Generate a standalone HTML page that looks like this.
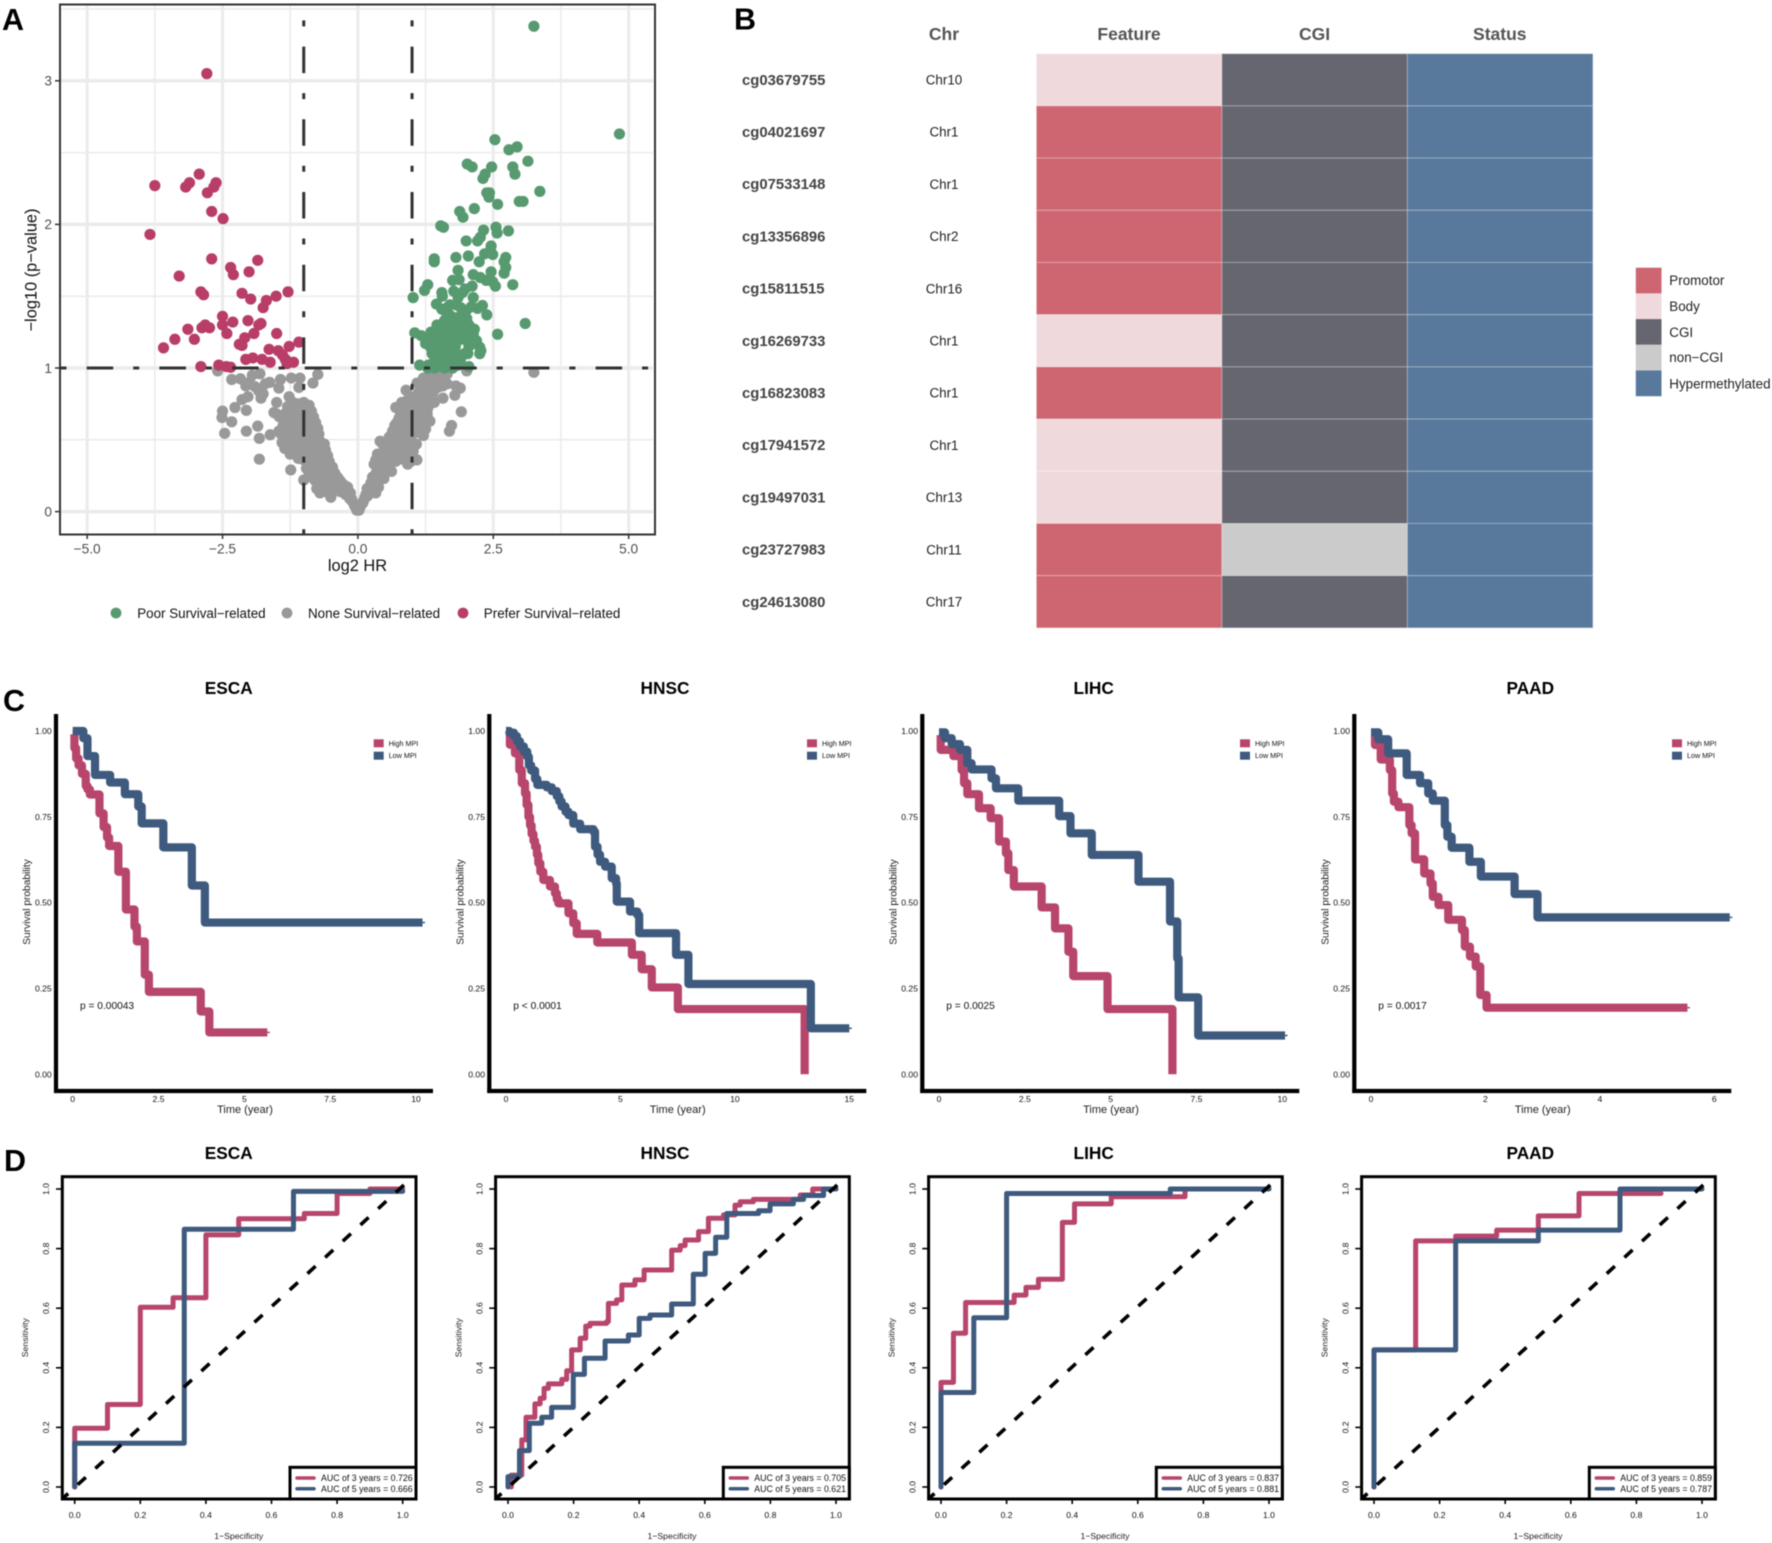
<!DOCTYPE html>
<html lang="en">
<head>
<meta charset="utf-8">
<title>Survival-related methylation figure</title>
<style>
html,body{margin:0;padding:0;background:#fff;width:1772px;height:1543px;overflow:hidden}
svg{display:block;font-family:"Liberation Sans",sans-serif;filter:blur(0.4px)}
.panel-letter{font-size:30.5px;font-weight:700;fill:#000}
.a-tick{font-size:13.7px;fill:#4d4d4d}
.a-title{font-size:16.4px;fill:#111}
.a-legend{font-size:13.4px;fill:#111}
.hm-head{font-size:17.5px;font-weight:700;fill:#555}
.hm-legend{font-size:13.4px;fill:#222}
.plot-title{font-size:17.3px;font-weight:700;fill:#000}
.km-title{font-size:10.2px;fill:#222}
.km-time{font-size:11px;fill:#222}
.km-p{font-size:10.2px;fill:#111}
.km-leg{font-size:7.2px;fill:#111}
.roc-label{font-size:8.7px;fill:#222}
.roc-leg{font-size:8.8px;fill:#111}
</style>
</head>
<body>
<svg id="figure" width="1772" height="1543" viewBox="0 0 1772 1543" xmlns="http://www.w3.org/2000/svg">
  <rect width="1772" height="1543" fill="#fff"/>

  <text class="panel-letter" x="2" y="30">A</text>
  <text class="panel-letter" x="734" y="29.5">B</text>
  <text class="panel-letter" x="3" y="711">C</text>
  <text class="panel-letter" x="4" y="1171">D</text>

  <!-- Panel A: volcano -->
  <g id="volcano">
    <g id="volcano-grid"></g>
    <g id="volcano-points"></g>
    <g id="volcano-thresholds"></g>
    <rect x="60" y="4.5" width="595" height="530" fill="none" stroke="#333" stroke-width="2"/>
    <g id="volcano-axes"></g>
    <text class="a-title" x="357.5" y="571" text-anchor="middle">log2 HR</text>
    <text class="a-title" x="36.5" y="270" text-anchor="middle" transform="rotate(-90 36.5 270)">−log10 (p−value)</text>
    <g>
      <circle cx="116" cy="613" r="5.4" fill="#579a70"/>
      <text class="a-legend" x="137.2" y="618">Poor Survival−related</text>
      <circle cx="287" cy="613" r="5.4" fill="#999"/>
      <text class="a-legend" x="308" y="618">None Survival−related</text>
      <circle cx="463" cy="613" r="5.4" fill="#b83d68"/>
      <text class="a-legend" x="483.8" y="618">Prefer Survival−related</text>
    </g>
  </g>

  <!-- Panel B: annotation heatmap -->
  <g id="heatmap">
    <text class="hm-head" x="944" y="40" text-anchor="middle">Chr</text>
    <text class="hm-head" x="1129" y="40" text-anchor="middle">Feature</text>
    <text class="hm-head" x="1314.5" y="40" text-anchor="middle">CGI</text>
    <text class="hm-head" x="1499.8" y="40" text-anchor="middle">Status</text>
    <g id="heatmap-cells"></g>
    <g>
      <rect x="1635.8" y="267.7" width="25.7" height="25.7" fill="#cd6670"/>
      <rect x="1635.8" y="293.4" width="25.7" height="25.7" fill="#f0d9dc"/>
      <rect x="1635.8" y="319.1" width="25.7" height="25.7" fill="#666670"/>
      <rect x="1635.8" y="344.8" width="25.7" height="25.7" fill="#cbcbcb"/>
      <rect x="1635.8" y="370.5" width="25.7" height="25.7" fill="#58799c"/>
      <text class="hm-legend" x="1669.3" y="285">Promotor</text>
      <text class="hm-legend" x="1669.3" y="311">Body</text>
      <text class="hm-legend" x="1669.3" y="337">CGI</text>
      <text class="hm-legend" x="1669.3" y="362">non−CGI</text>
      <text class="hm-legend" x="1669.3" y="388.5">Hypermethylated</text>
    </g>
  </g>

  <!-- Panel C: Kaplan-Meier -->
  <g id="km-esca">
    <text class="plot-title" x="228.7" y="694" text-anchor="middle">ESCA</text>
    <text class="km-title" x="30" y="902" text-anchor="middle" transform="rotate(-90 30 902)">Survival probability</text>
    <text class="km-time" x="245" y="1113" text-anchor="middle">Time (year)</text>
    <text class="km-p" x="80" y="1009">p = 0.00043</text>
    <rect x="373.7" y="739.3" width="10" height="8" fill="#b8456c"/>
    <rect x="373.7" y="751.7" width="10" height="8" fill="#3e5a7e"/>
    <text class="km-leg" x="388.7" y="746">High MPI</text>
    <text class="km-leg" x="388.7" y="758">Low MPI</text>
  </g>
  <g id="km-hnsc" transform="translate(433.3 0)">
    <text class="plot-title" x="231.7" y="694" text-anchor="middle">HNSC</text>
    <text class="km-title" x="30" y="902" text-anchor="middle" transform="rotate(-90 30 902)">Survival probability</text>
    <text class="km-time" x="244.4" y="1113" text-anchor="middle">Time (year)</text>
    <text class="km-p" x="80" y="1009">p &lt; 0.0001</text>
    <rect x="373.7" y="739.3" width="10" height="8" fill="#b8456c"/>
    <rect x="373.7" y="751.7" width="10" height="8" fill="#3e5a7e"/>
    <text class="km-leg" x="388.7" y="746">High MPI</text>
    <text class="km-leg" x="388.7" y="758">Low MPI</text>
  </g>
  <g id="km-lihc" transform="translate(866.3 0)">
    <text class="plot-title" x="227.4" y="694" text-anchor="middle">LIHC</text>
    <text class="km-title" x="30" y="902" text-anchor="middle" transform="rotate(-90 30 902)">Survival probability</text>
    <text class="km-time" x="244.7" y="1113" text-anchor="middle">Time (year)</text>
    <text class="km-p" x="80" y="1009">p = 0.0025</text>
    <rect x="373.7" y="739.3" width="10" height="8" fill="#b8456c"/>
    <rect x="373.7" y="751.7" width="10" height="8" fill="#3e5a7e"/>
    <text class="km-leg" x="388.7" y="746">High MPI</text>
    <text class="km-leg" x="388.7" y="758">Low MPI</text>
  </g>
  <g id="km-paad" transform="translate(1298.3 0)">
    <text class="plot-title" x="232" y="694" text-anchor="middle">PAAD</text>
    <text class="km-title" x="30" y="902" text-anchor="middle" transform="rotate(-90 30 902)">Survival probability</text>
    <text class="km-time" x="244.4" y="1113" text-anchor="middle">Time (year)</text>
    <text class="km-p" x="80" y="1009">p = 0.0017</text>
    <rect x="373.7" y="739.3" width="10" height="8" fill="#b8456c"/>
    <rect x="373.7" y="751.7" width="10" height="8" fill="#3e5a7e"/>
    <text class="km-leg" x="388.7" y="746">High MPI</text>
    <text class="km-leg" x="388.7" y="758">Low MPI</text>
  </g>

  <!-- Panel D: ROC -->
  <g id="roc-esca">
    <text class="plot-title" x="228.7" y="1159" text-anchor="middle">ESCA</text>
    <text class="roc-label" x="28" y="1337.7" text-anchor="middle" transform="rotate(-90 28 1337.7)">Sensitivity</text>
    <text class="roc-label" x="238.7" y="1539" text-anchor="middle">1−Specificity</text>
    <text class="roc-leg" x="321" y="1481.2">AUC of 3 years = 0.726</text>
    <text class="roc-leg" x="321" y="1491.8">AUC of 5 years = 0.666</text>
  </g>
  <g id="roc-hnsc" transform="translate(433.3 0)">
    <text class="plot-title" x="231.7" y="1159" text-anchor="middle">HNSC</text>
    <text class="roc-label" x="28" y="1337.7" text-anchor="middle" transform="rotate(-90 28 1337.7)">Sensitivity</text>
    <text class="roc-label" x="238.7" y="1539" text-anchor="middle">1−Specificity</text>
    <text class="roc-leg" x="321" y="1481.2">AUC of 3 years = 0.705</text>
    <text class="roc-leg" x="321" y="1491.8">AUC of 5 years = 0.621</text>
  </g>
  <g id="roc-lihc" transform="translate(866.3 0)">
    <text class="plot-title" x="227.4" y="1159" text-anchor="middle">LIHC</text>
    <text class="roc-label" x="28" y="1337.7" text-anchor="middle" transform="rotate(-90 28 1337.7)">Sensitivity</text>
    <text class="roc-label" x="238.7" y="1539" text-anchor="middle">1−Specificity</text>
    <text class="roc-leg" x="321" y="1481.2">AUC of 3 years = 0.837</text>
    <text class="roc-leg" x="321" y="1491.8">AUC of 5 years = 0.881</text>
  </g>
  <g id="roc-paad" transform="translate(1299.3 0)">
    <text class="plot-title" x="231" y="1159" text-anchor="middle">PAAD</text>
    <text class="roc-label" x="28" y="1337.7" text-anchor="middle" transform="rotate(-90 28 1337.7)">Sensitivity</text>
    <text class="roc-label" x="238.7" y="1539" text-anchor="middle">1−Specificity</text>
    <text class="roc-leg" x="321" y="1481.2">AUC of 3 years = 0.859</text>
    <text class="roc-leg" x="321" y="1491.8">AUC of 5 years = 0.787</text>
  </g>
</svg>

<script>
// ---------- Panel A data: [log2 HR, -log10 p] ----------
const preferPoints = [[-2.79,3.05],[-3.75,2.27],[-2.93,2.35],[-3.11,2.29],[-3.18,2.26],[-2.62,2.29],[-2.66,2.26],[-2.78,2.22],[-2.70,2.09],[-2.49,2.04],[-3.84,1.93],[-2.70,1.76],[-1.85,1.75],[-2.35,1.70],[-2.30,1.65],[-2.01,1.67],[-3.30,1.64],[-2.90,1.53],[-2.85,1.51],[-2.14,1.52],[-1.98,1.48],[-1.69,1.47],[-1.75,1.42],[-1.51,1.50],[-1.29,1.53],[-2.50,1.36],[-2.03,1.33],[-1.79,1.31],[-1.83,1.30],[-2.31,1.32],[-2.50,1.30],[-2.82,1.30],[-2.88,1.28],[-2.74,1.28],[-3.14,1.27],[-2.42,1.24],[-1.92,1.24],[-1.50,1.24],[-2.09,1.21],[-3.38,1.20],[-3.02,1.20],[-1.09,1.18],[-2.19,1.165],[-2.14,1.157],[-3.59,1.14],[-1.27,1.15],[-1.64,1.13],[-1.47,1.12],[-1.39,1.09],[-2.07,1.06],[-1.94,1.07],[-1.77,1.06],[-1.62,1.04],[-1.34,1.06],[-1.19,1.04],[-1.31,1.03],[-2.90,1.01],[-2.57,1.02],[-2.43,1.01],[-2.35,1.005]];

const poorPoints = [[3.25,3.38],[4.83,2.63],[2.53,2.59],[2.79,2.52],[2.94,2.54],[3.14,2.44],[2.02,2.42],[2.11,2.40],[2.47,2.40],[2.86,2.40],[2.90,2.35],[2.35,2.35],[2.31,2.32],[3.36,2.23],[2.38,2.22],[2.43,2.22],[2.42,2.19],[2.58,2.14],[2.98,2.16],[3.05,2.16],[2.15,2.11],[1.88,2.09],[1.94,2.05],[1.53,1.99],[1.58,1.98],[2.55,1.98],[2.32,1.96],[2.57,1.94],[2.78,1.955],[2.26,1.91],[2.21,1.885],[2.0,1.885],[2.46,1.85],[2.45,1.82],[2.34,1.795],[2.49,1.79],[2.04,1.78],[1.81,1.77],[2.24,1.74],[2.73,1.77],[1.41,1.76],[1.41,1.74],[2.70,1.74],[2.73,1.70],[2.46,1.67],[2.70,1.66],[1.85,1.68],[2.13,1.65],[1.87,1.615],[1.75,1.61],[2.26,1.63],[2.37,1.61],[2.49,1.60],[2.54,1.57],[2.86,1.58],[1.29,1.58],[1.23,1.54],[1.02,1.49],[1.55,1.525],[1.56,1.50],[1.77,1.535],[1.93,1.525],[1.98,1.55],[2.11,1.57],[2.13,1.49],[1.85,1.49],[1.45,1.445],[1.55,1.41],[1.65,1.42],[1.81,1.44],[2.09,1.425],[2.21,1.415],[2.30,1.435],[2.38,1.37],[1.93,1.37],[1.69,1.37],[2.01,1.345],[1.73,1.33],[3.09,1.31],[1.46,1.30],[1.65,1.29],[1.77,1.27],[1.89,1.29],[2.05,1.30],[1.41,1.25],[1.53,1.245],[1.78,1.245],[1.98,1.25],[2.13,1.235],[2.58,1.235],[1.05,1.245],[1.17,1.225],[1.29,1.19],[1.45,1.19],[1.65,1.195],[1.81,1.19],[2.19,1.19],[1.35,1.14],[1.57,1.145],[1.77,1.13],[2.25,1.145],[2.27,1.12],[1.37,1.10],[1.65,1.10],[1.89,1.09],[2.03,1.10],[2.25,1.10],[1.14,1.02],[1.29,1.00],[1.41,1.045],[1.57,1.03],[1.73,1.055],[1.89,1.045],[2.05,1.01],[1.3,1.02],[1.42,1.0],[1.5,1.05],[1.6,1.0],[1.68,1.03],[1.75,1.0],[1.85,1.02],[1.45,1.08],[1.52,1.12],[1.6,1.08],[1.7,1.07],[1.78,1.09],[1.9,1.07],[1.42,1.14],[1.5,1.18],[1.6,1.15],[1.7,1.14],[1.8,1.15],[1.42,1.2],[1.55,1.22],[1.65,1.21],[1.72,1.2],[1.82,1.22],[1.92,1.2],[1.58,1.28],[1.68,1.26],[1.75,1.3],[1.85,1.28],[1.95,1.32],[1.6,1.33],[1.72,1.36],[1.82,1.35],[1.6,1.4],[1.7,1.44],[1.9,1.42],[2.0,1.4],[2.1,1.2],[2.15,1.27],[2.05,1.15],[1.97,1.1],[2.0,1.21],[1.35,1.25],[1.25,1.17]];

const nonePoints = [[-2.59,.98],[-2.33,.92],[-2.17,.925],[-2.07,.875],[-1.95,.95],[-1.81,.96],[-2.5,.70],[-2.51,.655],[-2.27,.725],[-2.33,.625],[-2.06,.705],[-2.46,.545],[-2.06,.56],[-1.85,.595],[-1.82,.51],[-1.62,.535],[-1.82,.365],[-1.24,.29],[-2.14,.78],[-2.03,.80],[-1.79,.79],[-1.83,.84],[-1.71,.89],[-1.63,.90],[-1.43,.92],[-1.46,.86],[-1.23,.93],[-1.07,.93],[-1.09,.865],[-1.27,.80],[-1.50,.76],[-1.55,.69],[-.83,.895],[-.74,.955],[-2.0,.9],[-1.9,.87],[-1.75,.82],[3.25,.97],[2.01,.98],[1.91,.695],[1.73,.60],[1.69,.56],[1.79,.81],[1.89,.86],[1.81,.875],[1.65,.89],[1.57,.875],[1.65,.96],[1.45,.99],[1.33,.945],[1.21,.93],[1.09,.895],[.89,.845],[1.57,.79],[1.41,.76],[1.29,.72],[1.33,.63],[1.21,.53],[1.25,.575],[1.09,.36],[.70,.725],[.41,.49],[.81,.76],
[-.02,.01],[.02,.01],[-.04,.03],[.04,.03],[-.06,.04],[.06,.05],[-.08,.06],[.09,.06],[-.1,.07],[.11,.08],[-.12,.09],[.13,.1],[-.15,.09],[.15,.12],[-.17,.12],[.18,.11],[-.14,.13],[.2,.13],[-.2,.14],[.22,.17],[-.23,.12],[.25,.15],[-.19,.17],[.17,.16],[-.24,.18],[.28,.2],[-.27,.16],[.24,.2],[-.3,.15],[.3,.17],[-.33,.14],[.33,.13],[-.36,.16],[.27,.24],[-.3,.2],[.31,.25],[-.34,.22],[.35,.21],[-.4,.18],[.38,.17],[-.44,.15],[.41,.22],[-.38,.24],[.36,.29],[-.42,.21],[.34,.27],
[-.46,.22],[-.5,.19],[-.55,.17],[-.43,.27],[-.48,.26],[-.54,.23],[-.6,.21],[-.66,.18],[-.72,.2],[-.47,.31],[-.52,.3],[-.58,.28],[-.63,.25],[-.69,.24],[-.75,.25],[-.8,.22],[-.53,.35],[-.6,.33],[-.66,.3],[-.72,.29],[-.78,.3],[-.85,.27],[-.56,.39],[-.62,.37],[-.68,.35],[-.74,.34],[-.8,.34],[-.6,.43],[-.66,.41],[-.72,.39],[-.77,.38],[-.83,.37],[-.9,.35],[-.62,.47],[-.68,.45],[-.74,.44],[-.8,.42],[-.86,.4],[-.94,.38],[-1.0,.36],[-.7,.49],[-.76,.48],[-.82,.46],[-.9,.44],[-.97,.42],[-1.05,.4],[-1.1,.37],[-.72,.54],[-.78,.52],[-.85,.5],[-.92,.48],[-1.02,.46],[-1.1,.44],[-1.18,.42],[-1.25,.4],[-.74,.58],[-.8,.56],[-.87,.55],[-.95,.53],[-1.03,.52],[-1.14,.5],[-1.22,.48],[-1.3,.46],[-.78,.62],[-.84,.6],[-.92,.58],[-1.0,.57],[-1.08,.58],[-1.2,.55],[-1.32,.52],[-1.42,.54],[-.82,.66],[-.88,.64],[-.95,.63],[-1.05,.62],[-1.15,.6],[-1.25,.58],[-1.38,.6],[-1.46,.56],[-.86,.7],[-.92,.68],[-1.0,.68],[-1.1,.66],[-1.2,.65],[-1.3,.63],[-1.45,.66],[-.9,.74],[-.96,.72],[-1.04,.72],[-1.15,.7],[-1.25,.72],[-1.35,.68],[-1.5,.68],[-1.0,.76],[-1.1,.75],[-1.2,.76],[-1.3,.73],[-.84,.3],[-.9,.27],[-.7,.13],[-.62,.14],[-.95,.3],[-1.0,.22],[-.76,.16],[-.5,.1],[-1.35,.44],[-1.4,.48],
[.4,.3],[.45,.26],[.48,.23],[.5,.3],[.44,.34],[.38,.35],[.36,.4],[.42,.39],[.5,.36],[.56,.3],[.62,.28],[.6,.34],[.55,.4],[.48,.42],[.63,.4],[.7,.35],[.75,.38],[.68,.43],[.58,.45],[.65,.47],[.72,.46],[.8,.42],[.86,.36],[.92,.33],[.98,.35],[.85,.44],[.78,.48],[.7,.5],[.92,.42],[.95,.47],[.88,.5],[.8,.53],[.75,.55],[1.02,.42],[1.08,.47],[.98,.52],[.9,.55],[.84,.58],[.78,.6],[.76,.65],[.83,.63],[.9,.6],[.98,.58],[1.05,.55],[.78,.7],[.85,.68],[.92,.66],[1.0,.63],[1.08,.6],[1.15,.55],[1.2,.58],[.82,.74],[.88,.72],[.95,.7],[1.02,.68],[1.1,.65],[1.18,.62],[1.25,.65],[.9,.77],[.97,.75],[1.05,.73],[1.12,.7],[1.2,.7],[1.28,.68],[1.0,.8],[1.08,.78],[1.15,.75],[1.22,.76],[1.12,.83],[1.18,.81],[1.25,.8],[1.32,.78],[1.22,.86],[1.3,.84],[1.38,.82],[1.28,.9],[1.36,.88],[1.42,.85],[1.35,.93],[1.43,.91],[1.5,.87],[1.42,.97],[1.5,.94],[1.58,.91],[.3,.33],[.33,.36],[.46,.47],[.58,.52],[.64,.56],[.68,.6],[.72,.62]];

const volcanoXTicks = [-5,-2.5,0,2.5,5];
const volcanoXTickLabels = ['−5.0','−2.5','0.0','2.5','5.0'];
const volcanoYTicks = [0,1,2,3];
const volcanoXMinorGrid = [-3.75,-1.25,1.25,3.75];
const volcanoYMinorGrid = [0.5,1.5,2.5,3.5];
const hrThresholds = [-1,1];
const pThreshold = 1;

// ---------- Panel B data ----------
const probeIds = ['cg03679755','cg04021697','cg07533148','cg13356896','cg15811515','cg16269733','cg16823083','cg17941572','cg19497031','cg23727983','cg24613080'];
const chromosomes = ['Chr10','Chr1','Chr1','Chr2','Chr16','Chr1','Chr1','Chr1','Chr13','Chr11','Chr17'];
const featureClass = ['Body','Promotor','Promotor','Promotor','Promotor','Body','Promotor','Body','Body','Promotor','Promotor'];
const cgiClass = ['CGI','CGI','CGI','CGI','CGI','CGI','CGI','CGI','CGI','non-CGI','CGI'];
const statusClass = ['Hyper','Hyper','Hyper','Hyper','Hyper','Hyper','Hyper','Hyper','Hyper','Hyper','Hyper'];

// ---------- Panel C data: time (years) with survival after that time ----------
const survivalTicks = [0,0.25,0.5,0.75,1];
const survivalTickLabels = ['0.00','0.25','0.50','0.75','1.00'];

const escaHighTimes = [0,.05,.1,.17,.27,.38,.43,.5,.78,.9,1.0,1.06,1.33,1.55,1.8,1.87,2.1,2.22,3.73,3.98,5.67];
const escaHighSurv = [.99,.95,.92,.9,.875,.84,.83,.815,.76,.72,.69,.665,.59,.48,.43,.387,.29,.24,.183,.122,.122];
const escaLowTimes = [0,.31,.43,.65,1.09,1.52,1.91,2.01,2.64,3.47,3.85,10.19];
const escaLowSurv = [1,.979,.927,.872,.85,.816,.78,.731,.661,.55,.442,.442];
const escaTimeTicks = [0,2.5,5,7.5,10];
const escaTimeLabels = ['0','2.5','5','7.5','10'];

const hnscHighTimes = [0,.17,.39,.58,.69,.83,.9,.98,1.05,1.12,1.2,1.27,1.35,1.41,1.5,1.63,1.92,2.14,2.22,2.29,2.73,2.94,3.09,3.99,5.5,5.93,6.37,7.51,13.05];
const hnscHighSurv = [.99,.96,.935,.886,.848,.818,.785,.75,.725,.7,.68,.663,.64,.615,.59,.566,.547,.527,.51,.498,.469,.44,.409,.384,.348,.306,.253,.19,0];
const hnscLowTimes = [0,.15,.35,.48,.61,.78,.93,1.0,1.1,1.27,1.37,1.78,2.0,2.22,2.33,2.43,2.6,2.73,2.94,3.24,3.82,3.89,4.0,4.11,4.33,4.62,4.81,4.84,5.42,5.74,5.82,7.43,7.97,13.32,15];
const hnscLowSurv = [1,.995,.985,.97,.955,.94,.925,.9,.885,.86,.843,.836,.825,.81,.795,.78,.765,.755,.73,.714,.707,.663,.64,.619,.605,.571,.556,.503,.474,.464,.411,.348,.263,.134,.134];
const hnscTimeTicks = [0,5,10,15];
const hnscTimeLabels = ['0','5','10','15'];

const lihcHighTimes = [0,.05,.42,.66,.73,.825,1.165,1.505,1.75,1.95,2.02,2.18,2.99,3.38,3.77,3.91,4.91,6.8];
const lihcHighSurv = [.988,.945,.927,.886,.848,.816,.775,.746,.678,.644,.595,.547,.486,.425,.357,.286,.19,0];
const lihcLowTimes = [0,.175,.37,.61,.825,.95,1.53,1.66,2.31,3.5,3.83,4.45,5.81,6.73,6.94,6.98,7.55,10.08];
const lihcLowSurv = [.996,.979,.962,.945,.906,.888,.862,.833,.797,.752,.702,.639,.561,.445,.338,.224,.113,.113];
const lihcTimeTicks = [0,2.5,5,7.5,10];
const lihcTimeLabels = ['0','2.5','5','7.5','10'];

const paadHighTimes = [0,.07,.17,.33,.37,.40,.48,.67,.71,.77,.93,1.04,1.08,1.18,1.35,1.59,1.64,1.73,1.83,1.91,2.02,5.53];
const paadHighSurv = [.988,.959,.917,.886,.818,.794,.778,.726,.702,.626,.585,.556,.517,.493,.45,.42,.372,.343,.314,.231,.194,.194];
const paadLowTimes = [0,.128,.30,.624,.857,1.0,1.08,1.29,1.335,1.41,1.72,1.92,2.51,2.91,6.27];
const paadLowSurv = [.996,.976,.935,.872,.848,.818,.797,.726,.692,.66,.619,.576,.525,.457,.457];
const paadTimeTicks = [0,2,4,6];
const paadTimeLabels = ['0','2','4','6'];

// ---------- Panel D data: false positive rate with sensitivity after that rate ----------
const rocTicks = [0,0.2,0.4,0.6,0.8,1];
const rocTickLabels = ['0.0','0.2','0.4','0.6','0.8','1.0'];

const escaRoc3Fpr = [0,0,.1,.2,.3,.4,.5,.7,.8,.9,1];
const escaRoc3Tpr = [0,.197,.277,.603,.635,.846,.9,.918,.985,1,1];
const escaRoc5Fpr = [0,0,.334,.667,1];
const escaRoc5Tpr = [0,.147,.865,.992,.992];

const hnscRoc3Fpr = [.01,.01,.042,.055,.082,.098,.11,.123,.164,.179,.194,.22,.237,.25,.301,.306,.331,.347,.387,.415,.499,.525,.54,.581,.611,.657,.692,.708,.748,.891,.929,1];
const hnscRoc3Tpr = [0,.04,.158,.234,.279,.298,.331,.346,.361,.39,.46,.499,.54,.549,.555,.616,.628,.678,.695,.728,.795,.81,.829,.857,.902,.913,.946,.957,.965,.98,1,1];
const hnscRoc5Fpr = [0,0,.035,.065,.103,.133,.199,.233,.296,.367,.4,.433,.499,.565,.601,.633,.667,.764,.799,.87,.901,.962,1];
const hnscRoc5Tpr = [0,.035,.122,.214,.234,.267,.378,.432,.49,.51,.566,.577,.614,.714,.784,.838,.918,.927,.95,.965,.978,1,1];

const lihcRoc3Fpr = [0,0,.038,.075,.223,.259,.297,.37,.407,.519,.744];
const lihcRoc3Tpr = [0,.351,.516,.619,.644,.67,.697,.888,.95,.974,.991];
const lihcRoc5Fpr = [0,0,.1,.2,.699,1];
const lihcRoc5Tpr = [0,.317,.568,.985,1,1];

const paadRoc3Fpr = [0,0,.127,.249,.374,.501,.625,.875];
const paadRoc3Tpr = [0,.46,.826,.842,.862,.91,.985,.985];
const paadRoc5Fpr = [0,0,.249,.501,.75,1];
const paadRoc5Tpr = [0,.46,.826,.862,1,1];

// ---------- Layout (not data) ----------
const NS = 'http://www.w3.org/2000/svg';
const SVGRED = '#b8456c';
const SVGBLUE = '#3e5a7e';

function add(parent, tag, attrs, text) {
  const node = document.createElementNS(NS, tag);
  for (const key in attrs) node.setAttribute(key, attrs[key]);
  if (text !== undefined) node.textContent = text;
  parent.appendChild(node);
  return node;
}
function $(id) { return document.getElementById(id); }

// Volcano axis functions
const vx = v => 357.9 + v * 54.15;
const vy = v => 511.6 - v * 143.6;

function stepPath(xs, ys, fx, fy) {
  let d = 'M' + fx(xs[0]).toFixed(2) + ' ' + fy(ys[0]).toFixed(2);
  for (let i = 1; i < xs.length; i++) {
    d += 'H' + fx(xs[i]).toFixed(2) + 'V' + fy(ys[i]).toFixed(2);
  }
  return d;
}

// ---------- Draw volcano ----------
(function () {
  const grid = $('volcano-grid');
  volcanoXMinorGrid.forEach(v => {
    const el = add(grid, 'line', {x1: vx(v), x2: vx(v), y1: 5, y2: 534, stroke: '#ebebeb', 'stroke-width': 1.5});
    
    
  });
  volcanoYMinorGrid.forEach(v => {
    const el = add(grid, 'line', {x1: 61, x2: 653, y1: vy(v), y2: vy(v), stroke: '#ebebeb', 'stroke-width': 1.5});
    
    
  });
  volcanoXTicks.forEach(v => {
    const el = add(grid, 'line', {x1: vx(v), x2: vx(v), y1: 5, y2: 534, stroke: '#ebebeb', 'stroke-width': 3});
    
    
  });
  volcanoYTicks.forEach(v => {
    const el = add(grid, 'line', {x1: 61, x2: 653, y1: vy(v), y2: vy(v), stroke: '#ebebeb', 'stroke-width': 3.5});
    
    
  });

  const pts = $('volcano-points');
  nonePoints.forEach(p => {
    const el = add(pts, 'circle', {cx: vx(p[0]), cy: vy(p[1]), r: 5.6, fill: '#999999'});
    
    
  });
  preferPoints.forEach(p => {
    const el = add(pts, 'circle', {cx: vx(p[0]), cy: vy(p[1]), r: 5.6, fill: '#b83d68'});
    
    
  });
  poorPoints.forEach(p => {
    const el = add(pts, 'circle', {cx: vx(p[0]), cy: vy(p[1]), r: 5.6, fill: '#579a70'});
    
    
  });

  const th = $('volcano-thresholds');
  const dash = '6 20.2 26.5 20';
  hrThresholds.forEach(v => {
    const el = add(th, 'line', {x1: vx(v), x2: vx(v), y1: 20.4, y2: 534, stroke: '#333', 'stroke-width': 3, 'stroke-dasharray': dash});
    
    
  });
  const hl = add(th, 'line', {x1: 60.5, x2: 650, y1: vy(pThreshold), y2: vy(pThreshold), stroke: '#333', 'stroke-width': 3, 'stroke-dasharray': dash});
  
  

  const axes = $('volcano-axes');
  volcanoXTicks.forEach((v, i) => {
    const tick = add(axes, 'line', {x1: vx(v), x2: vx(v), y1: 535, y2: 539, stroke: '#333', 'stroke-width': 1.5});
    
    
    const lab = add(axes, 'text', {x: vx(v), y: 553.4, 'text-anchor': 'middle', 'class': 'a-tick'}, volcanoXTickLabels[i]);
    
    
  });
  volcanoYTicks.forEach(v => {
    const tick = add(axes, 'line', {x1: 55, x2: 60, y1: vy(v), y2: vy(v), stroke: '#333', 'stroke-width': 1.5});
    
    
    const lab = add(axes, 'text', {x: 52, y: vy(v) + 4.8, 'text-anchor': 'end', 'class': 'a-tick'}, String(v));
    
    
  });
})();

// ---------- Draw heatmap ----------
(function () {
  const g = $('heatmap-cells');
  const colours = {'Promotor': '#cd6670', 'Body': '#f0d9dc', 'CGI': '#666670', 'non-CGI': '#cbcbcb', 'Hyper': '#58799c'};
  const colX = [1036.4, 1221.9, 1407.4];
  const colW = 185.5;
  const top = 53.7;
  const rowH = 52.2;
  const rowY = i => top + rowH * i;
  const tracks = [featureClass, cgiClass, statusClass];
  const trackNames = ['feature', 'cgi', 'status'];
  tracks.forEach((track, c) => {
    track.forEach((value, r) => {
      const cell = add(g, 'rect', {x: colX[c], y: rowY(r), width: colW, height: rowH, fill: colours[value], stroke: 'rgba(255,255,255,.28)', 'stroke-width': 1});
      
      
    });
  });
  probeIds.forEach((id, r) => {
    const lab = add(g, 'text', {x: 742, y: rowY(r) + rowH / 2 + 5, 'font-size': 14.85, 'font-weight': 700, fill: '#444'}, id);
    
    
    const chr = add(g, 'text', {x: 944, y: rowY(r) + rowH / 2 + 4.7, 'font-size': 13.4, 'text-anchor': 'middle', fill: '#222'}, chromosomes[r]);
    
    
  });
})();

// ---------- Draw Kaplan-Meier panels ----------
const kmPanels = [
  {key: 'esca', highT: escaHighTimes, highS: escaHighSurv, lowT: escaLowTimes, lowS: escaLowSurv, ticks: escaTimeTicks, labels: escaTimeLabels},
  {key: 'hnsc', highT: hnscHighTimes, highS: hnscHighSurv, lowT: hnscLowTimes, lowS: hnscLowSurv, ticks: hnscTimeTicks, labels: hnscTimeLabels},
  {key: 'lihc', highT: lihcHighTimes, highS: lihcHighSurv, lowT: lihcLowTimes, lowS: lihcLowSurv, ticks: lihcTimeTicks, labels: lihcTimeLabels},
  {key: 'paad', highT: paadHighTimes, highS: paadHighSurv, lowT: paadLowTimes, lowS: paadLowSurv, ticks: paadTimeTicks, labels: paadTimeLabels}
];
const kmY = s => 1074.3 - s * 343.3;

kmPanels.forEach(p => {
  const g = $('km-' + p.key);
  const maxTick = p.ticks[p.ticks.length - 1];
  const kmX = t => 72.7 + t * 343.3 / maxTick;

  const high = add(g, 'path', {d: stepPath(p.highT, p.highS, kmX, kmY), fill: 'none', stroke: SVGRED, 'stroke-width': 8.2, 'stroke-linejoin': 'round'});
  
  
  const low = add(g, 'path', {d: stepPath(p.lowT, p.lowS, kmX, kmY), fill: 'none', stroke: SVGBLUE, 'stroke-width': 8.2, 'stroke-linejoin': 'round'});
  
  

  [[p.highT, p.highS, SVGRED, 'high'], [p.lowT, p.lowS, SVGBLUE, 'low']].forEach(s => {
    const n = s[0].length - 1;
    if (s[1][n] > 0) {
      const cens = add(g, 'line', {x1: kmX(s[0][n]), x2: kmX(s[0][n]) + 2.5, y1: kmY(s[1][n]), y2: kmY(s[1][n]), stroke: s[2], 'stroke-width': 1.5});
      
      
    }
  });

  const yAxis = add(g, 'line', {x1: 56, x2: 56, y1: 714, y2: 1093, stroke: '#000', 'stroke-width': 4.2});
  
  
  const xAxis = add(g, 'line', {x1: 54, x2: 433, y1: 1091, y2: 1091, stroke: '#000', 'stroke-width': 4.2});
  
  

  survivalTicks.forEach((v, i) => {
    const lab = add(g, 'text', {x: 51.7, y: kmY(v) + 3, 'text-anchor': 'end', 'font-size': 8.6, fill: '#111'}, survivalTickLabels[i]);
    
    
  });
  p.ticks.forEach((v, i) => {
    const lab = add(g, 'text', {x: kmX(v), y: 1102, 'text-anchor': 'middle', 'font-size': 8.6, fill: '#111'}, p.labels[i]);
    
    
  });
});

// ---------- Draw ROC panels ----------
const rocPanels = [
  {key: 'esca', f3: escaRoc3Fpr, t3: escaRoc3Tpr, f5: escaRoc5Fpr, t5: escaRoc5Tpr},
  {key: 'hnsc', f3: hnscRoc3Fpr, t3: hnscRoc3Tpr, f5: hnscRoc5Fpr, t5: hnscRoc5Tpr},
  {key: 'lihc', f3: lihcRoc3Fpr, t3: lihcRoc3Tpr, f5: lihcRoc5Fpr, t5: lihcRoc5Tpr},
  {key: 'paad', f3: paadRoc3Fpr, t3: paadRoc3Tpr, f5: paadRoc5Fpr, t5: paadRoc5Tpr}
];
const rocX = v => 74.7 + v * 328;
const rocY = v => 1487 - v * 298;

rocPanels.forEach(p => {
  const g = $('roc-' + p.key);
  const texts = Array.from(g.querySelectorAll('.roc-leg'));

  const line3 = add(g, 'path', {d: stepPath(p.f3, p.t3, rocX, rocY), fill: 'none', stroke: SVGRED, 'stroke-width': 5, 'stroke-linejoin': 'round', 'stroke-linecap': 'round'});
  
  
  const line5 = add(g, 'path', {d: stepPath(p.f5, p.t5, rocX, rocY), fill: 'none', stroke: SVGBLUE, 'stroke-width': 5, 'stroke-linejoin': 'round', 'stroke-linecap': 'round'});
  
  

  const diag = add(g, 'line', {x1: rocX(-0.038), y1: rocY(-0.04), x2: rocX(1.03), y2: rocY(1.04), stroke: '#000', 'stroke-width': 3.6, 'stroke-dasharray': '11 13', 'stroke-dashoffset': 3});
  
  

  const frame = add(g, 'rect', {x: 62.3, y: 1176.7, width: 353.7, height: 322.3, fill: 'none', stroke: '#000', 'stroke-width': 3});
  
  

  const legBox = add(g, 'rect', {x: 290, y: 1467.3, width: 126, height: 31.7, fill: '#fff', stroke: '#000', 'stroke-width': 3});
  
  
  const s3 = add(g, 'line', {x1: 297, x2: 314, y1: 1478, y2: 1478, stroke: SVGRED, 'stroke-width': 3.5, 'stroke-linecap': 'round'});
  
  
  const s5 = add(g, 'line', {x1: 297, x2: 314, y1: 1488.7, y2: 1488.7, stroke: SVGBLUE, 'stroke-width': 3.5, 'stroke-linecap': 'round'});
  
  
  texts.forEach(t => g.appendChild(t));

  rocTicks.forEach((v, i) => {
    const tx = add(g, 'line', {x1: rocX(v), x2: rocX(v), y1: 1499, y2: 1504, stroke: '#000', 'stroke-width': 1.6});
    
    
    const lx = add(g, 'text', {x: rocX(v), y: 1518, 'text-anchor': 'middle', 'font-size': 8.6, fill: '#111'}, rocTickLabels[i]);
    
    
    const ty = add(g, 'line', {x1: 56, x2: 62, y1: rocY(v), y2: rocY(v), stroke: '#000', 'stroke-width': 1.6});
    
    
    const ly = add(g, 'text', {x: 49, y: rocY(v), 'text-anchor': 'middle', 'font-size': 8.6, fill: '#111', transform: 'rotate(-90 49 ' + rocY(v) + ')'}, rocTickLabels[i]);
    
    
  });
});
</script>
</body>
</html>
